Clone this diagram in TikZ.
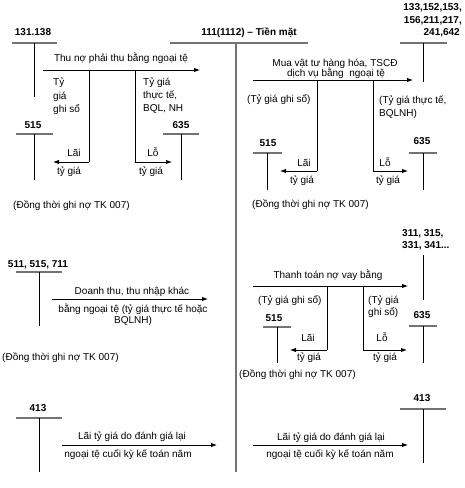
\documentclass[tikz,border=0pt]{standalone}
\usepackage{fontspec}
\setmainfont{Liberation Sans}
\usetikzlibrary{arrows.meta}
\begin{document}
\begin{tikzpicture}[x=1pt,y=-1pt,
  txt/.style={font=\fontsize{10}{12}\selectfont, inner sep=0pt},
  num/.style={font=\fontsize{10}{12}\selectfont\bfseries, inner sep=0pt},
  tline/.style={draw=black!55, line width=1.6pt},
  vline/.style={draw=black, line width=0.9pt},
  mainv/.style={draw=black!55, line width=1.8pt},
  arr/.style={draw=black, line width=0.9pt, -{Latex[length=6pt,width=4.5pt]}},
  seg/.style={draw=black, line width=0.9pt}
]
\useasboundingbox (0,0) rectangle (465,488);

% ---------- main account 111 ----------
\node[num, anchor=base] (tm) at (249,35.6) {111(1112) – Tiền mặt};
\coordinate (mL) at (170,43); \coordinate (mR) at (308,43);
\coordinate (mT) at (236,43); \coordinate (mB) at (236,472);
\draw[tline] (mL) -- (mR);
\draw[mainv] (mT) -- (mB);

% ---------- block 1 left: 131,138 ----------
\node[num, anchor=base] (a131) at (33,35.6) {131.138};
\coordinate (a131L) at (12,43); \coordinate (a131R) at (57,43);
\coordinate (a131T) at (34,43); \coordinate (a131B) at (34,97);
\draw[tline] (a131L) -- (a131R);
\draw[vline] (a131T) -- (a131B);
\node[txt, anchor=base] (l1t) at (121,61.6) {Thu nợ phải thu bằng ngoại tệ};
\coordinate (l1s) at (43,70); \coordinate (l1e) at (200,70);
\draw[arr] (l1s) -- (l1e);
\coordinate (l1a) at (89,70); \coordinate (l1b) at (89,162); \coordinate (l1c) at (53,162);
\coordinate (l1d) at (135,70); \coordinate (l1f) at (135,162); \coordinate (l1g) at (172,162);
\draw[seg] (l1a) -- (l1b); \draw[arr] (l1b) -- (l1c);
\draw[seg] (l1d) -- (l1f); \draw[arr] (l1f) -- (l1g);
\node[txt, anchor=base west] (l1r1) at (53,85.6) {Tỷ};
\node[txt, anchor=base west] (l1r2) at (53,99.1) {giá};
\node[txt, anchor=base west] (l1r3) at (53,112.6) {ghi sổ};
\node[txt, anchor=base west] (l1q1) at (143,85.6) {Tỷ giá};
\node[txt, anchor=base west] (l1q2) at (143,98.6) {thực tế,};
\node[txt, anchor=base west] (l1q3) at (143,111.6) {BQL, NH};
\node[txt, anchor=base] (l1lai) at (74,156.6) {Lãi};
\node[txt, anchor=base] (l1lai2) at (69,174.6) {tỷ giá};
\node[txt, anchor=base] (l1lo) at (153,156.6) {Lỗ};
\node[txt, anchor=base] (l1lo2) at (151,174.6) {tỷ giá};
\node[num, anchor=base] (a515a) at (33,128.6) {515};
\coordinate (a515aL) at (16,134); \coordinate (a515aR) at (53,134);
\coordinate (a515aT) at (34,134); \coordinate (a515aB) at (34,180);
\draw[tline] (a515aL) -- (a515aR); \draw[vline] (a515aT) -- (a515aB);
\node[num, anchor=base] (a635a) at (181,128.6) {635};
\coordinate (a635aL) at (163,134); \coordinate (a635aR) at (199,134);
\coordinate (a635aT) at (181,134); \coordinate (a635aB) at (181,180);
\draw[tline] (a635aL) -- (a635aR); \draw[vline] (a635aT) -- (a635aB);
\node[txt, anchor=base west] (l1n) at (13,208.6) {(Đồng thời ghi nợ TK 007)};

% ---------- block 1 right: 133,... ----------
\node[num, anchor=base east] (a133a) at (462,10.6) {133,152,153,};
\node[num, anchor=base east] (a133b) at (462,23.6) {156,211,217,};
\node[num, anchor=base east] (a133c) at (460,35.6) {241,642};
\coordinate (a133L) at (400,43); \coordinate (a133R) at (447,43);
\coordinate (a133T) at (423,43); \coordinate (a133B) at (423,82);
\draw[tline] (a133L) -- (a133R); \draw[vline] (a133T) -- (a133B);
\node[txt, anchor=base] (r1t1) at (335,66.6) {Mua vật tư hàng hóa, TSCĐ};
\node[txt, anchor=base] (r1t2) at (336,76.3) {dịch vụ bằng\ \ ngoại tệ};
\coordinate (r1s) at (253,80); \coordinate (r1e) at (413,80);
\draw[arr] (r1s) -- (r1e);
\coordinate (r1a) at (317,80); \coordinate (r1b) at (317,171); \coordinate (r1c) at (280,171);
\coordinate (r1d) at (373,80); \coordinate (r1f) at (373,171); \coordinate (r1g) at (408,171);
\draw[seg] (r1a) -- (r1b); \draw[arr] (r1b) -- (r1c);
\draw[seg] (r1d) -- (r1f); \draw[arr] (r1f) -- (r1g);
\node[txt, anchor=base west] (r1g1) at (247,102.6) {(Tỷ giá ghi sổ)};
\node[txt, anchor=base west] (r1q1) at (379,103.6) {(Tỷ giá thực tế,};
\node[txt, anchor=base west] (r1q2) at (379,116.6) {BQLNH)};
\node[txt, anchor=base] (r1lai) at (304,166.6) {Lãi};
\node[txt, anchor=base] (r1lai2) at (302,183.6) {tỷ giá};
\node[txt, anchor=base] (r1lo) at (385,166.6) {Lỗ};
\node[txt, anchor=base] (r1lo2) at (388,183.6) {tỷ giá};
\node[num, anchor=base] (a515b) at (268,146.6) {515};
\coordinate (a515bL) at (253,153); \coordinate (a515bR) at (282,153);
\coordinate (a515bT) at (267,153); \coordinate (a515bB) at (267,190);
\draw[tline] (a515bL) -- (a515bR); \draw[vline] (a515bT) -- (a515bB);
\node[num, anchor=base] (a635b) at (422,144.6) {635};
\coordinate (a635bL) at (409,153); \coordinate (a635bR) at (437,153);
\coordinate (a635bT) at (423,153); \coordinate (a635bB) at (423,190);
\draw[tline] (a635bL) -- (a635bR); \draw[vline] (a635bT) -- (a635bB);
\node[txt, anchor=base west] (r1n) at (252,207.6) {(Đồng thời ghi nợ TK 007)};

% ---------- block 2 left: 511,515,711 ----------
\node[num, anchor=base] (a511) at (38,267.6) {511, 515, 711};
\coordinate (a511L) at (16,272); \coordinate (a511R) at (62,272);
\coordinate (a511T) at (39,272); \coordinate (a511B) at (39,326);
\draw[tline] (a511L) -- (a511R); \draw[vline] (a511T) -- (a511B);
\node[txt, anchor=base] (l2t1) at (132,294.6) {Doanh thu, thu nhập khác};
\coordinate (l2s) at (52,299); \coordinate (l2e) at (208,299);
\draw[arr] (l2s) -- (l2e);
\node[txt, anchor=base] (l2t2) at (133,312.6) {bằng ngoại tệ (tỷ giá thực tế hoặc};
\node[txt, anchor=base] (l2t3) at (133,323.6) {BQLNH)};
\node[txt, anchor=base west] (l2n) at (2,360.6) {(Đồng thời ghi nợ TK 007)};

% ---------- block 2 right: 311,... ----------
\node[num, anchor=base west] (a311a) at (402,236.6) {311, 315,};
\node[num, anchor=base west] (a311b) at (402,248.6) {331, 341...};
\coordinate (a311T) at (423,255); \coordinate (a311B) at (423,300);
\draw[vline] (a311T) -- (a311B);
\node[num, anchor=base] (a635c) at (422,318.6) {635};
\coordinate (a635cL) at (409,326); \coordinate (a635cR) at (437,326);
\coordinate (a635cT) at (423,326); \coordinate (a635cB) at (423,363);
\draw[tline] (a635cL) -- (a635cR); \draw[vline] (a635cT) -- (a635cB);
\node[txt, anchor=base] (r2t) at (328,278.6) {Thanh toán nợ vay bằng};
\coordinate (r2s) at (253,286); \coordinate (r2e) at (408,286);
\draw[arr] (r2s) -- (r2e);
\coordinate (r2a) at (327,286); \coordinate (r2b) at (327,350); \coordinate (r2c) at (290,350);
\coordinate (r2d) at (363,286); \coordinate (r2f) at (363,350); \coordinate (r2g) at (407,350);
\draw[seg] (r2a) -- (r2b); \draw[arr] (r2b) -- (r2c);
\draw[seg] (r2d) -- (r2f); \draw[arr] (r2f) -- (r2g);
\node[txt, anchor=base west] (r2g1) at (258,303.6) {(Tỷ giá ghi sổ)};
\node[txt, anchor=base west] (r2q1) at (368,303.6) {(Tỷ giá};
\node[txt, anchor=base west] (r2q2) at (368,315.6) {ghi sổ)};
\node[num, anchor=base] (a515c) at (274,321.6) {515};
\coordinate (a515cL) at (263,327); \coordinate (a515cR) at (291,327);
\coordinate (a515cT) at (277,327); \coordinate (a515cB) at (277,363);
\draw[tline] (a515cL) -- (a515cR); \draw[vline] (a515cT) -- (a515cB);
\node[txt, anchor=base] (r2lai) at (308,341.6) {Lãi};
\node[txt, anchor=base] (r2lai2) at (309,360.6) {tỷ giá};
\node[txt, anchor=base] (r2lo) at (382,341.6) {Lỗ};
\node[txt, anchor=base] (r2lo2) at (385,360.6) {tỷ giá};
\node[txt, anchor=base west] (r2n) at (239,377.6) {(Đồng thời ghi nợ TK 007)};

% ---------- block 3 left: 413 ----------
\node[num, anchor=base] (a413a) at (38,411.6) {413};
\coordinate (a413aL) at (16,418); \coordinate (a413aR) at (62,418);
\coordinate (a413aT) at (39,418); \coordinate (a413aB) at (39,472);
\draw[tline] (a413aL) -- (a413aR); \draw[vline] (a413aT) -- (a413aB);
\node[txt, anchor=base] (l3t1) at (132,439.6) {Lãi tỷ giá do đánh giá lại};
\coordinate (l3s) at (62,445); \coordinate (l3e) at (217,445);
\draw[arr] (l3s) -- (l3e);
\node[txt, anchor=base] (l3t2) at (128,457.6) {ngoại tệ cuối kỳ kế toán năm};

% ---------- block 3 right: 413 ----------
\node[num, anchor=base] (a413b) at (422,401.6) {413};
\coordinate (a413bL) at (400,409); \coordinate (a413bR) at (446,409);
\coordinate (a413bT) at (423,409); \coordinate (a413bB) at (423,463);
\draw[tline] (a413bL) -- (a413bR); \draw[vline] (a413bT) -- (a413bB);
\node[txt, anchor=base] (r3t1) at (331,440.6) {Lãi tỷ giá do đánh giá lại};
\coordinate (r3s) at (253,445); \coordinate (r3e) at (408,445);
\draw[arr] (r3s) -- (r3e);
\node[txt, anchor=base] (r3t2) at (330,457.6) {ngoại tệ cuối kỳ kế toán năm};
\end{tikzpicture}
\end{document}
